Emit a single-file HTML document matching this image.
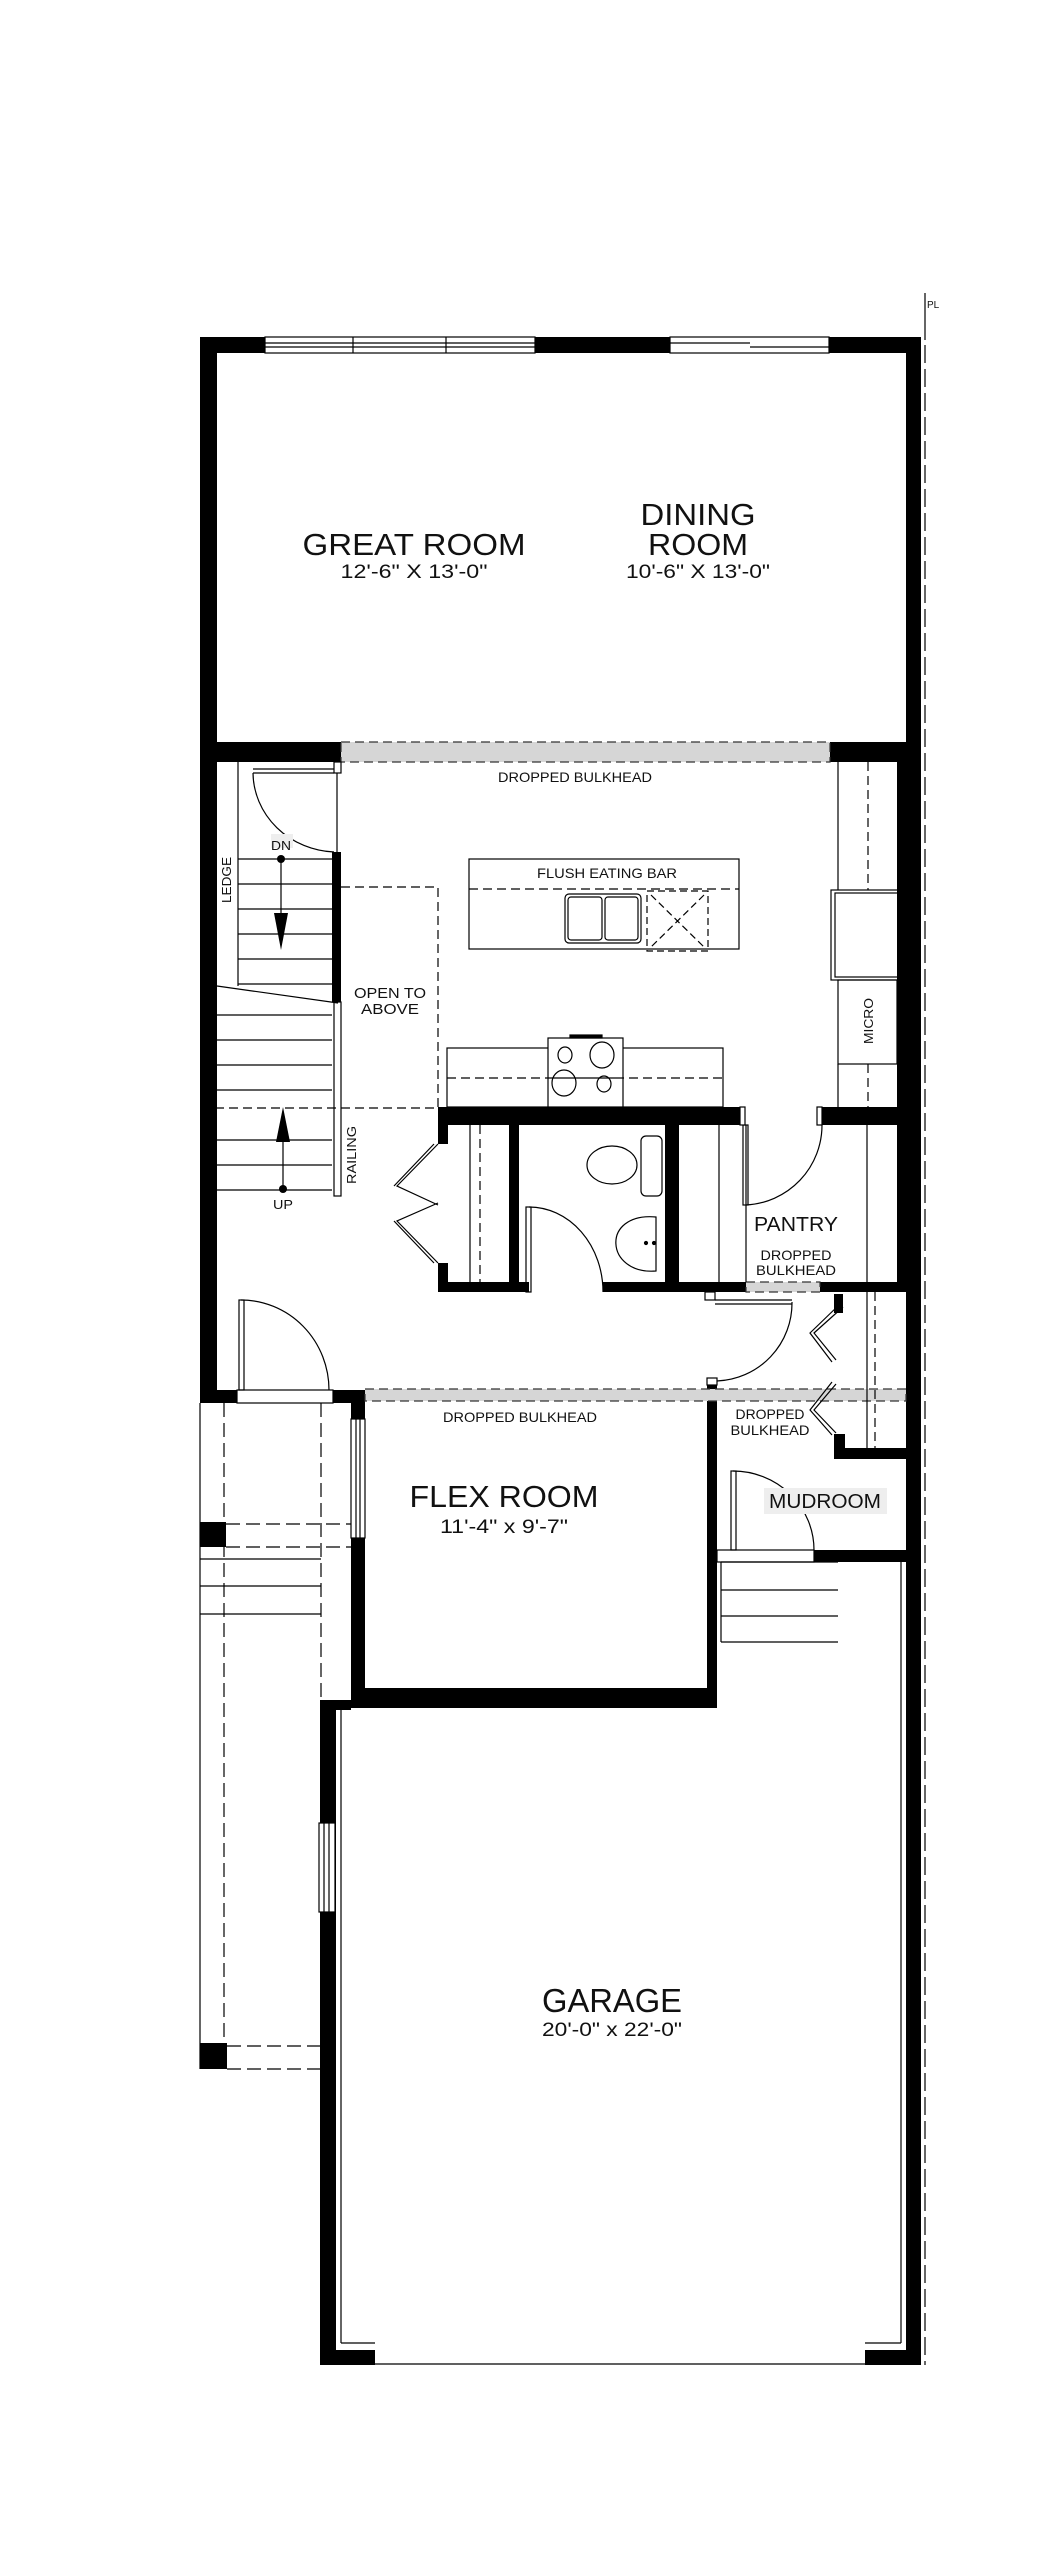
<!DOCTYPE html>
<html><head><meta charset="utf-8"><style>
html,body{margin:0;padding:0;background:#fff;}
svg{display:block;}
text{font-family:"Liberation Sans",sans-serif;fill:#111;}
</style></head><body>
<svg width="1042" height="2550" viewBox="0 0 1042 2550" xmlns="http://www.w3.org/2000/svg">
<rect width="1042" height="2550" fill="#fff"/>
<!-- property line -->
<line x1="925" y1="293" x2="925" y2="340" stroke="#000" stroke-width="1.2"/>
<line x1="925" y1="345" x2="925" y2="2365" stroke="#000" stroke-width="1.2" stroke-dasharray="18,6"/>
<text x="927" y="308" font-size="10">PL</text>

<g fill="#000">
<!-- top wall -->
<rect x="200" y="337" width="721" height="16"/>
<!-- left wall -->
<rect x="200" y="337" width="17" height="1066"/>
<!-- right wall upper -->
<rect x="906" y="337" width="15" height="425"/>
<rect x="897" y="742" width="24" height="550"/>
<rect x="906" y="1292" width="15" height="1073"/>
<!-- bulkhead walls -->
<rect x="200" y="742" width="141" height="20"/>
<rect x="830" y="742" width="91" height="20"/>
<!-- railing -->
<rect x="332" y="852" width="9" height="150"/>
<!-- kitchen wall -->
<rect x="438" y="1107" width="302" height="18"/>
<rect x="820" y="1107" width="77" height="18"/>
<rect x="438" y="1125" width="10" height="19"/>
<rect x="438" y="1263" width="10" height="29"/>
<rect x="438" y="1282" width="91" height="10"/>
<rect x="509" y="1125" width="10" height="167"/>
<rect x="665" y="1125" width="14" height="167"/>
<rect x="603" y="1282" width="143" height="10"/>
<rect x="820" y="1282" width="101" height="10"/>
<rect x="834" y="1294" width="9" height="19"/>
<!-- entry wall -->
<rect x="200" y="1390" width="37" height="13"/>
<rect x="333" y="1390" width="32" height="13"/>
<rect x="351" y="1390" width="14" height="29"/>
<rect x="351" y="1538" width="14" height="170"/>
<!-- flex -->
<rect x="351" y="1688" width="366" height="20"/>
<rect x="707" y="1381" width="10" height="327"/>
<rect x="834" y="1434" width="11" height="25"/>
<rect x="834" y="1448" width="87" height="11"/>
<rect x="814" y="1550" width="107" height="12"/>
<!-- garage -->
<rect x="320" y="1700" width="31" height="10"/>
<rect x="320" y="1700" width="16" height="665"/>
<rect x="320" y="2350" width="55" height="15"/>
<rect x="865" y="2350" width="56" height="15"/>
<!-- columns -->
<rect x="200" y="1522" width="26" height="25"/>
<rect x="200" y="2043" width="27" height="26"/>
</g>

<!-- grey bulkheads -->
<g fill="#d6d6d6" stroke="#333" stroke-width="1.2" stroke-dasharray="9,5">
<rect x="341" y="742" width="489" height="20"/>
<rect x="746" y="1282" width="74" height="10"/>
<rect x="365" y="1389" width="541" height="12"/>
</g>

<!-- windows top -->
<g fill="#fff" stroke="#000" stroke-width="1.2">
<rect x="265" y="337" width="270" height="16"/>
<line x1="265" y1="343" x2="535" y2="343"/><line x1="265" y1="347" x2="535" y2="347"/>
<line x1="353" y1="337" x2="353" y2="353"/><line x1="446" y1="337" x2="446" y2="353"/>
<rect x="670" y="337" width="159" height="16"/>
<line x1="670" y1="343" x2="750" y2="343"/><line x1="750" y1="347" x2="829" y2="347"/>
<rect x="351" y="1419" width="14" height="119"/>
<line x1="356" y1="1419" x2="356" y2="1538"/><line x1="360" y1="1419" x2="360" y2="1538"/>
<rect x="319" y="1823" width="16" height="89"/>
<line x1="324" y1="1823" x2="324" y2="1912"/><line x1="329" y1="1823" x2="329" y2="1912"/>
<rect x="237" y="1390" width="96" height="13"/>
<rect x="717" y="1550" width="97" height="12"/>
</g>

<g fill="none" stroke="#000" stroke-width="1.2">
<!-- stairs -->
<line x1="238" y1="762" x2="238" y2="986"/>
<line x1="337" y1="773" x2="337" y2="852"/>
<rect x="334" y="762" width="7" height="11" fill="#fff"/>
<rect x="334" y="1002" width="7" height="194"/>
<line x1="253" y1="773" x2="334" y2="773"/><line x1="253" y1="769" x2="334" y2="769"/>
<path d="M253,773 A85,80 0 0 0 334,852"/>
<g>
<line x1="238" y1="859" x2="332" y2="859"/><line x1="238" y1="884" x2="332" y2="884"/>
<line x1="238" y1="909" x2="332" y2="909"/><line x1="238" y1="934" x2="332" y2="934"/>
<line x1="238" y1="959" x2="332" y2="959"/><line x1="238" y1="984" x2="332" y2="984"/>
<line x1="217" y1="986" x2="338" y2="1003"/>
<line x1="217" y1="1015" x2="332" y2="1015"/><line x1="217" y1="1040" x2="332" y2="1040"/>
<line x1="217" y1="1065" x2="332" y2="1065"/><line x1="217" y1="1090" x2="332" y2="1090"/>
<line x1="217" y1="1140" x2="332" y2="1140"/><line x1="217" y1="1165" x2="332" y2="1165"/>
<line x1="217" y1="1190" x2="332" y2="1190"/>
</g>
<line x1="281" y1="859" x2="281" y2="915"/>
<line x1="283" y1="1140" x2="283" y2="1189"/>
<!-- open to above -->
<path d="M341,887 H438 V1108 H217" stroke-dasharray="9,5"/>
<!-- island -->
<rect x="469" y="859" width="270" height="90"/>
<line x1="469" y1="889" x2="739" y2="889" stroke-dasharray="9,5"/>
<rect x="565" y="894" width="76" height="49" rx="4"/>
<rect x="568" y="897" width="34" height="43" rx="3"/>
<rect x="605" y="897" width="33" height="43" rx="3"/>
<rect x="647" y="891" width="61" height="60" stroke-dasharray="7,4"/>
<path d="M651,895 L704,947 M704,895 L651,947" stroke-dasharray="7,4"/>
<!-- fridge / micro -->
<line x1="838" y1="762" x2="838" y2="890"/>
<line x1="868" y1="762" x2="868" y2="890" stroke-dasharray="9,5"/>
<rect x="831" y="890" width="75" height="90"/>
<rect x="835" y="893" width="71" height="84"/>
<rect x="838" y="980" width="59" height="84"/>
<line x1="838" y1="1064" x2="838" y2="1107"/>
<line x1="868" y1="1064" x2="868" y2="1107" stroke-dasharray="9,5"/>
<!-- counter & range -->
<rect x="447" y="1048" width="276" height="59"/>
<line x1="447" y1="1078" x2="723" y2="1078" stroke-dasharray="9,5"/>
<rect x="548" y="1038" width="75" height="69" fill="#fff"/>
<line x1="548" y1="1078" x2="623" y2="1078"/>
<rect x="570" y="1035" width="32" height="3" fill="#000"/>
<ellipse cx="565" cy="1055" rx="7" ry="8"/><ellipse cx="602" cy="1055" rx="12" ry="13"/>
<ellipse cx="564" cy="1083" rx="12" ry="13"/><ellipse cx="604" cy="1084" rx="7" ry="8"/>
<!-- coat closet -->
<line x1="470" y1="1125" x2="470" y2="1282"/>
<line x1="480" y1="1125" x2="480" y2="1282" stroke-dasharray="9,5"/>
<path d="M438,1144 L397,1186 L438,1205 M434,1144 L394,1186"/>
<path d="M438,1263 L397,1221 L438,1203 M434,1263 L394,1221"/>
<!-- powder -->
<rect x="526" y="1207" width="5" height="85"/>
<path d="M529,1207 A74,85 0 0 1 603,1292"/>
<ellipse cx="612" cy="1165" rx="25" ry="19"/>
<rect x="641" y="1136" width="21" height="60" rx="5"/>
<path d="M656,1217 C600,1212 605,1275 656,1271 Z"/>
<circle cx="646" cy="1243" r="1.5" fill="#000"/><circle cx="654" cy="1243" r="1.5" fill="#000"/>
<!-- pantry -->
<line x1="719" y1="1125" x2="719" y2="1282"/>
<line x1="746" y1="1125" x2="746" y2="1282"/>
<line x1="867" y1="1125" x2="867" y2="1282"/>
<rect x="743" y="1125" width="5" height="80"/>
<path d="M746,1205 A80,80 0 0 0 822,1125"/>
<rect x="740" y="1107" width="5" height="18" fill="#fff"/>
<rect x="817" y="1107" width="5" height="18" fill="#fff"/>
<!-- hall door -->
<rect x="705" y="1292" width="10" height="8"/>
<line x1="715" y1="1300" x2="792" y2="1300"/><line x1="715" y1="1304" x2="792" y2="1304"/>
<path d="M792,1302 A78,78 0 0 1 717,1381"/>
<rect x="707" y="1378" width="10" height="7" fill="#fff"/>
<!-- right closet -->
<line x1="867" y1="1292" x2="867" y2="1448"/>
<line x1="875" y1="1292" x2="875" y2="1448" stroke-dasharray="9,5"/>
<path d="M843,1307 L814,1333 L836,1360 M839,1305 L810,1333 L832,1362"/>
<path d="M836,1384 L814,1410 L836,1433 M832,1382 L810,1410 L832,1435"/>
<!-- entry door -->
<rect x="239" y="1300" width="5" height="90"/>
<path d="M241,1300 A88,90 0 0 1 329,1390"/>
<!-- mudroom door -->
<rect x="731" y="1471" width="5" height="79"/>
<path d="M733,1471 A81,79 0 0 1 814,1550"/>
<!-- garage steps -->
<path d="M721,1562 V1642 M721,1562 H838 M721,1590 H838 M721,1616 H838 M721,1642 H838"/>
<line x1="901" y1="1562" x2="901" y2="2343"/>
<line x1="341" y1="1710" x2="341" y2="2343"/>
<line x1="341" y1="2343" x2="375" y2="2343"/>
<line x1="865" y1="2343" x2="901" y2="2343"/>
<line x1="375" y1="2364" x2="865" y2="2364"/>
<!-- porch -->
<line x1="200" y1="1403" x2="200" y2="2069"/>
<line x1="224" y1="1403" x2="224" y2="2043" stroke-dasharray="14,6"/>
<line x1="321" y1="1403" x2="321" y2="1700" stroke-dasharray="14,6"/>
<line x1="226" y1="1524" x2="351" y2="1524" stroke-dasharray="14,6"/>
<line x1="226" y1="1547" x2="351" y2="1547" stroke-dasharray="14,6"/>
<path d="M200,1559 H321 M200,1586 H321 M200,1614 H321"/>
<line x1="227" y1="2046" x2="320" y2="2046" stroke-dasharray="14,6"/>
<line x1="227" y1="2069" x2="320" y2="2069" stroke-dasharray="14,6"/>
</g>
<!-- arrows -->
<circle cx="281" cy="859" r="4" fill="#000"/>
<polygon points="274,913 288,913 281,950" fill="#000"/>
<circle cx="283" cy="1189" r="4" fill="#000"/>
<polygon points="276,1142 290,1142 283,1107" fill="#000"/>
<rect x="764" y="1488" width="123" height="26" fill="#eee"/>
<rect x="271" y="834" width="22" height="14" fill="#eee"/>

<!-- texts -->
<g text-anchor="middle">
<text x="414" y="555" font-size="31" textLength="223" lengthAdjust="spacingAndGlyphs">GREAT ROOM</text>
<text x="414" y="578" font-size="19" textLength="147" lengthAdjust="spacingAndGlyphs">12'-6" X 13'-0"</text>
<text x="698" y="525" font-size="31" textLength="115" lengthAdjust="spacingAndGlyphs">DINING</text>
<text x="698" y="555" font-size="31" textLength="100" lengthAdjust="spacingAndGlyphs">ROOM</text>
<text x="698" y="578" font-size="19" textLength="144" lengthAdjust="spacingAndGlyphs">10'-6" X 13'-0"</text>
<text x="575" y="782" font-size="14" textLength="154" lengthAdjust="spacingAndGlyphs">DROPPED BULKHEAD</text>
<text x="281" y="850" font-size="13" textLength="20" lengthAdjust="spacingAndGlyphs">DN</text>
<text x="283" y="1209" font-size="13" textLength="20" lengthAdjust="spacingAndGlyphs">UP</text>
<text x="607" y="878" font-size="14" textLength="140" lengthAdjust="spacingAndGlyphs">FLUSH EATING BAR</text>
<text x="390" y="998" font-size="15" textLength="72" lengthAdjust="spacingAndGlyphs">OPEN TO</text>
<text x="390" y="1014" font-size="15" textLength="58" lengthAdjust="spacingAndGlyphs">ABOVE</text>
<text x="796" y="1231" font-size="20" textLength="84" lengthAdjust="spacingAndGlyphs">PANTRY</text>
<text x="796" y="1260" font-size="14" textLength="71" lengthAdjust="spacingAndGlyphs">DROPPED</text>
<text x="796" y="1275" font-size="14" textLength="80" lengthAdjust="spacingAndGlyphs">BULKHEAD</text>
<text x="520" y="1422" font-size="14" textLength="154" lengthAdjust="spacingAndGlyphs">DROPPED BULKHEAD</text>
<text x="770" y="1419" font-size="14" textLength="69" lengthAdjust="spacingAndGlyphs">DROPPED</text>
<text x="770" y="1435" font-size="14" textLength="79" lengthAdjust="spacingAndGlyphs">BULKHEAD</text>
<text x="504" y="1507" font-size="31" textLength="189" lengthAdjust="spacingAndGlyphs">FLEX ROOM</text>
<text x="504" y="1533" font-size="19" textLength="128" lengthAdjust="spacingAndGlyphs">11'-4" x 9'-7"</text>
<text x="825" y="1508" font-size="20" textLength="112" lengthAdjust="spacingAndGlyphs">MUDROOM</text>
<text x="612" y="2012" font-size="33" textLength="140" lengthAdjust="spacingAndGlyphs">GARAGE</text>
<text x="612" y="2036" font-size="19" textLength="140" lengthAdjust="spacingAndGlyphs">20'-0" x 22'-0"</text>
<text transform="translate(231,880) rotate(-90)" font-size="13" textLength="46" lengthAdjust="spacingAndGlyphs">LEDGE</text>
<text transform="translate(356,1155) rotate(-90)" font-size="13" textLength="58" lengthAdjust="spacingAndGlyphs">RAILING</text>
<text transform="translate(873,1021) rotate(-90)" font-size="13" textLength="46" lengthAdjust="spacingAndGlyphs">MICRO</text>
</g>
</svg>
</body></html>
